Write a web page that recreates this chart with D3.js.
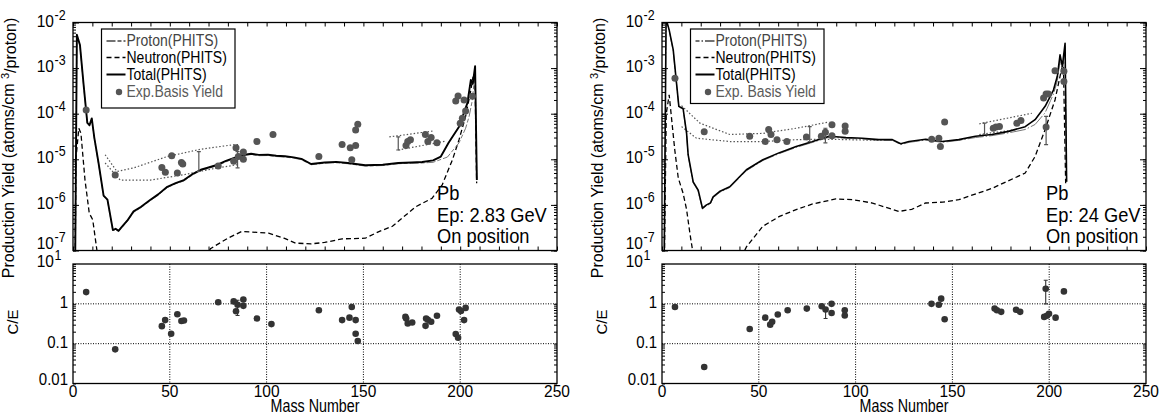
<!DOCTYPE html>
<html>
<head>
<meta charset="utf-8">
<script src="https://cdn.jsdelivr.net/npm/d3@7"></script>
<style>
  body { margin: 0; background: #fff; }
  svg { display: block; font-family: "Liberation Sans", Arial, Helvetica, sans-serif; }
  .frame { fill: none; stroke: #000; stroke-width: 1.3; }
  .axis path { display: none; }
  .axis line { stroke: #000; stroke-width: 1; }
  .grid { stroke: #000; stroke-width: 1; stroke-dasharray: 1, 1.5; }
</style>
</head>
<body>
<svg id="chart" width="1167" height="417"></svg>
<script>
// ---- data ----
var massTicks = [0, 50, 100, 150, 200, 250];
var yieldTicks = [1e-2, 1e-3, 1e-4, 1e-5, 1e-6, 1e-7];
var yieldTickSup = ["-2", "-3", "-4", "-5", "-6", "-7"];
var ratioTicks = [10, 1, 0.1, 0.01];
var ratioTickLabels = ["10", "1", "0.1", "0.01"];
var ratioTickSup = ["1", "", "", ""];
var legendLeft = ["Proton(PHITS)", "Neutron(PHITS)", "Total(PHITS)", "Exp.Basis Yield"];
var legendRight = ["Proton(PHITS)", "Neutron(PHITS)", "Total(PHITS)", "Exp. Basis Yield"];
var noteLeft = ["Pb", "Ep: 2.83 GeV", "On position"];
var noteRight = ["Pb", "Ep: 24 GeV", "On position"];

// Ep = 2.83 GeV
var totalLeft = [[1, 1e-8], [2, 5.4e-3], [3.6, 3.2e-3], [5.4, 4.7e-4], [7.4, 6.3e-5], [8.5, 5.6e-5],
  [9.7, 7.9e-5], [11, 3e-5], [13.2, 8.3e-6], [15.8, 1.6e-6], [17.8, 1.3e-6], [20.6, 2.8e-7],
  [22, 3e-7], [23.5, 2.7e-7], [25, 3.2e-7], [28, 4.5e-7], [31.3, 7.2e-7], [35, 9e-7], [40, 1.3e-6],
  [44, 1.7e-6], [48.7, 2.5e-6], [53, 3e-6], [57.3, 3.5e-6], [62, 4.8e-6], [66, 5.9e-6], [70, 6.6e-6],
  [74.7, 7.6e-6], [79, 9.2e-6], [83.3, 1.07e-5], [88, 1.25e-5], [92, 1.32e-5], [96, 1.25e-5],
  [100.7, 1.26e-5], [105, 1.2e-5], [109.5, 1.17e-5], [114, 1.1e-5], [118, 1.02e-5], [123, 7.9e-6],
  [130, 8.5e-6], [136, 8.8e-6], [142, 8.3e-6], [151, 7.4e-6], [160, 7.6e-6], [168, 8.3e-6],
  [175, 8.5e-6], [180.4, 8.7e-6], [186, 9.5e-6], [190, 1.15e-5], [194, 2.3e-5], [199.4, 5.2e-5],
  [203.7, 1.7e-4], [205.5, 5.5e-4], [206.5, 4.5e-4], [207.7, 1.1e-3], [208.6, 3.5e-6]];
var protonLeft = [[1, 1e-8], [2, 5.2e-3], [3.6, 3.1e-3], [5.4, 4.5e-4], [7.4, 6e-5], [8.5, 5.4e-5],
  [9.7, 7.6e-5], [11, 2.9e-5], [13.2, 8e-6], [15.8, 1.54e-6], [17.8, 1.25e-6], [20.6, 2.7e-7],
  [22, 2.9e-7], [23.5, 2.6e-7], [25, 3.1e-7], [28, 4.3e-7], [31.3, 6.9e-7], [35, 8.6e-7], [40, 1.25e-6],
  [44, 1.63e-6], [48.7, 2.4e-6], [53, 2.9e-6], [57.3, 3.35e-6], [62, 4.6e-6], [66, 5.7e-6], [70, 6.3e-6],
  [74.7, 7.3e-6], [79, 8.8e-6], [83.3, 1.03e-5], [88, 1.2e-5], [92, 1.27e-5], [96, 1.2e-5],
  [100.7, 1.21e-5], [105, 1.15e-5], [109.5, 1.12e-5], [114, 1.06e-5], [118, 9.8e-6], [123, 7.6e-6],
  [130, 8.2e-6], [136, 8.4e-6], [142, 8e-6], [151, 7.1e-6], [160, 7.3e-6], [168, 8e-6],
  [175, 8.2e-6], [180.4, 8.3e-6], [186, 8.6e-6], [193.4, 1.12e-5], [199.4, 2.3e-5], [202.8, 4.8e-5],
  [204.6, 8.7e-5], [206.3, 2e-4], [207.7, 9e-4], [208.6, 3.5e-6]];
var neutronLeft = [[1, 1e-8], [1.5, 1e-5], [3, 4.8e-5], [4.1, 3.7e-5], [6.2, 3.5e-6], [8.4, 6.6e-7],
  [10.2, 4.7e-7], [12.3, 1.05e-7], [13, 5e-8], [40, null], [69, 7e-8], [71, 1.1e-7], [80, 1.86e-7],
  [87, 2.6e-7], [95, 2.5e-7], [101, 2.4e-7], [109, 1.86e-7], [115, 1.45e-7], [123, 1.4e-7],
  [130, 1.5e-7], [139, 1.8e-7], [151, 1.86e-7], [158, 2.6e-7], [165, 3.4e-7], [177, 9.1e-7],
  [185.5, 1.4e-6], [190.7, 2.75e-6], [196, 9.8e-6], [199.4, 2.7e-5], [202.8, 8.7e-5],
  [205.5, 3.3e-4], [206.6, 6.3e-4], [207.6, 7e-4], [208.5, 3e-6]];
var expLeft = [[6.8, 1.2e-4], [21.8, 4.5e-6], [45.9, 6.6e-6], [47.7, 5.2e-6], [51, 1.2e-5], [53.9, 5e-6],
  [56, 8.5e-6], [56.7, 7.9e-6], [75, 7.1e-6], [83, 9.1e-6], [84.2, 1.8e-5], [85.4, 1.15e-5],
  [88, 1.45e-5], [88, 1e-5], [95, 2.45e-5], [103.3, 3.5e-5], [127, 1.15e-5], [139, 2.1e-5],
  [143.2, 1.8e-5], [144, 9.8e-6], [146, 2e-5], [146, 4.4e-5], [147.1, 5.9e-5], [172, 2e-5],
  [172.9, 2.45e-5], [174.3, 2.7e-5], [182, 3.5e-5], [183.3, 2.45e-5], [185, 3e-5], [188, 2.3e-5],
  [197.7, 1.9e-4], [198.9, 2.45e-4], [200, 6.2e-5], [201.1, 7.9e-5], [202, 2e-4], [202.8, 1.15e-4],
  [206.3, 2.4e-4]];
var bandsLeft = [
  [[16.6, 1.26e-5], [22.7, 5.4e-6], [31.4, 6.5e-6], [48.7, 1.15e-5], [66, 1.66e-5], [83.3, 2.1e-5], [86, 2.1e-5]],
  [[16.6, 8.3e-6], [24.4, 3.5e-6], [40, 3.5e-6], [57.3, 4.6e-6], [74.7, 6.5e-6], [85, 7.6e-6]],
  [[163.4, 3.1e-5], [186.4, 4.2e-5]],
  [[168, 1.6e-5], [192.5, 2.5e-5]]];
var errLeft = [[65, 5.4e-6, 1.48e-5], [85, 6.5e-6, 1.48e-5], [168, 1.6e-5, 3.1e-5]];
var ratioLeft = [[6.8, 1.97], [21.8, 0.072], [45.9, 0.275], [47.6, 0.39], [50.7, 0.178], [53.9, 0.55],
  [56, 0.37], [57.3, 0.38], [75, 1.1], [83, 1.15], [84.2, 0.65], [85, 0.95], [88, 1.29], [88, 0.89],
  [95, 0.43], [102.5, 0.31], [127, 0.69], [139, 0.39], [142.8, 0.45], [144, 0.83], [146, 0.39],
  [146, 0.178], [147.1, 0.117], [171.7, 0.47], [172.1, 0.43], [172.9, 0.32], [175.2, 0.34],
  [182.1, 0.28], [182.4, 0.43], [183.3, 0.4], [185, 0.355], [188, 0.5], [197.7, 0.174],
  [198.9, 0.141], [199.4, 0.72], [200.4, 0.66], [202, 0.39], [202.8, 0.79]];
var ratioErrLeft = [[85, 0.51, 1.23]];

// Ep = 24 GeV
var totalRight = [[1, 1e-8], [2.1, 1.2e-2], [3.7, 6.9e-3], [5.8, 2.5e-3], [7.5, 4.7e-4], [8.7, 1.45e-4],
  [10.9, 1.3e-4], [12.7, 3.7e-5], [13.5, 1.26e-5], [16.1, 3.2e-6], [18.7, 2.1e-6], [20.9, 8.5e-7],
  [23, 1e-6], [25, 1.1e-6], [26.4, 1.5e-6], [30, 2e-6], [35, 2.5e-6], [43.6, 5.9e-6], [52.1, 9.8e-6],
  [60.7, 1.4e-5], [69.3, 1.9e-5], [77.8, 2.45e-5], [86.4, 3.2e-5], [95, 3e-5], [103.5, 2.9e-5],
  [112, 2.7e-5], [119, 2.7e-5], [123.3, 2.2e-5], [127.6, 2.45e-5], [136.2, 2.75e-5], [144.7, 2.45e-5],
  [153.3, 2.7e-5], [161.9, 3.2e-5], [170.4, 3.5e-5], [179, 4.1e-5], [187.6, 5.2e-5], [192.7, 7.4e-5],
  [197.9, 1.45e-4], [202.2, 3.3e-4], [204.2, 6.6e-4], [205.6, 1.95e-3], [206.8, 1.1e-3],
  [208.2, 3.5e-3], [209, 3.2e-6]];
var protonRight = [[1, 1e-8], [2.1, 1.15e-2], [3.7, 6.6e-3], [5.8, 2.4e-3], [7.5, 4.5e-4], [8.7, 1.4e-4],
  [10.9, 1.25e-4], [12.7, 3.55e-5], [13.5, 1.2e-5], [16.1, 3.05e-6], [18.7, 2e-6], [20.9, 8.1e-7],
  [23, 9.6e-7], [25, 1.05e-6], [26.4, 1.44e-6], [30, 1.9e-6], [35, 2.4e-6], [43.6, 5.6e-6], [52.1, 9.4e-6],
  [60.7, 1.34e-5], [69.3, 1.82e-5], [77.8, 2.35e-5], [86.4, 3.05e-5], [95, 2.88e-5], [103.5, 2.78e-5],
  [112, 2.6e-5], [119, 2.6e-5], [123.3, 2.1e-5], [127.6, 2.35e-5], [136.2, 2.64e-5], [144.7, 2.35e-5],
  [153.3, 2.6e-5], [161.9, 3e-5], [170.4, 3.3e-5], [179, 3.8e-5], [187.6, 4.5e-5], [192.7, 5.8e-5],
  [197.9, 1.05e-4], [202.2, 2.7e-4], [204.2, 5.2e-4], [205.6, 1.5e-3], [206.8, 9e-4],
  [208.2, 3e-3], [209, 3.2e-6]];
var neutronRight = [[1, 1e-8], [2.2, 1e-4], [3.7, 2.6e-4], [6.6, 1.6e-5], [8.4, 3.9e-6], [10.9, 1.8e-6],
  [12.7, 7.9e-7], [14.4, 2.4e-7], [15.8, 1e-7], [16.5, 5e-8], [30, null], [41, 7e-8], [43.6, 1.2e-7],
  [52.1, 3.4e-7], [60.7, 5.6e-7], [69.3, 7.9e-7], [77.8, 1.05e-6], [89.8, 1.35e-6], [98.4, 1.3e-6],
  [108.7, 1.1e-6], [115, 9e-7], [122.4, 7.2e-7], [129, 8e-7], [136.2, 1.1e-6], [145, 1.15e-6],
  [153.3, 1.3e-6], [170.4, 2.3e-6], [187.6, 5e-6], [192.7, 1.15e-5], [197.9, 4.5e-5], [203, 2e-4],
  [205.6, 6.6e-4], [207.3, 1.45e-3], [208.5, 3e-6]];
var expRight = [[6.7, 6e-4], [21.8, 4e-5], [45.3, 3.2e-5], [53.3, 2.45e-5], [55.1, 4.5e-5], [56.3, 3.5e-5],
  [59.4, 2.7e-5], [64.5, 2.45e-5], [74.6, 3.1e-5], [82.3, 3.2e-5], [84.4, 3.9e-5], [87.8, 5.75e-5],
  [87.8, 3.3e-5], [94.6, 5.4e-5], [94.6, 4.1e-5], [139.3, 2.75e-5], [143, 2.9e-5], [143.8, 1.9e-5],
  [146, 6.6e-5], [171.1, 4.8e-5], [172.5, 5.1e-5], [174.3, 5.25e-5], [183.3, 6.2e-5], [185.4, 7.1e-5],
  [197.1, 2.2e-4], [198.4, 2.7e-4], [199.6, 2.7e-4], [203, 8.7e-4], [198.4, 5.1e-5], [207.6, 8.5e-4],
  [207.6, 5.1e-4]];
var bandsRight = [
  [[10.1, 1.5e-4], [19.6, 6.2e-5], [35, 3.5e-5], [52.1, 3.7e-5], [69.3, 4.8e-5], [86.4, 6.6e-5]],
  [[10.1, 5.2e-5], [17.8, 2.9e-5], [35, 2.45e-5], [52.1, 2.45e-5], [69.3, 2.7e-5], [86.4, 2.75e-5], [112, 2.6e-5]],
  [[163.9, 6e-5], [191, 1.02e-4]],
  [[163.9, 3.5e-5], [183.4, 4.5e-5]]];
var errRight = [[76.3, 2.45e-5, 5.2e-5], [84.4, 2.3e-5, 4.8e-5], [166.6, 3.5e-5, 6.2e-5], [198.4, 2.1e-5, 8.7e-5]];
var ratioRight = [[6.7, 0.83], [21.8, 0.026], [45.3, 0.234], [53.3, 0.45], [55.9, 0.3], [56.9, 0.355],
  [59.8, 0.54], [64.9, 0.69], [74.8, 0.76], [82.5, 0.87], [84.5, 0.72], [87.6, 1.0], [87.6, 0.59],
  [94.4, 0.69], [94.4, 0.51], [139.2, 1.0], [143, 0.95], [144.2, 1.35], [146, 0.41], [171.8, 0.76],
  [173, 0.69], [175.2, 0.63], [182.9, 0.71], [185, 0.63], [197.4, 0.47], [198.2, 2.4], [198.8, 0.5],
  [199.9, 0.56], [203.3, 0.45], [207.6, 2.05]];
var ratioErrRight = [[84.5, 0.43, 0.72], [198.2, 1.0, 3.9]];

var svg = d3.select("#chart");
var defs = svg.append("defs");

// text drawn slightly taller than wide, like the scanned figure
function label(g, x, y, size, sy, str, anchor) {
  return g.append("text").attr("transform", "translate(" + x + "," + y + ") scale(1," + sy + ")")
    .attr("text-anchor", anchor || "start").style("font-size", size + "px").text(str);
}

function powerLabel(g, x, y, base, sup) {
  label(g, x - 19, y, 15.5, 1.1, base, "end");
  if (sup) label(g, x - 18.5, y - 7, 12.5, 1.1, sup);
}

function drawPanel(p) {
  var g = svg.append("g");
  var x = d3.scaleLinear().domain([0, 250]).range([p.left, p.left + 484]);
  var yTop = d3.scaleLog().domain([1e-7, 1e-2]).range([250.5, 22.5]);
  var yBot = d3.scaleLog().domain([0.01, 10]).range([383.5, 264]);
  var x0 = x(0), x1 = x(250);

  defs.append("clipPath").attr("id", "clip" + p.id).append("rect")
    .attr("x", x0).attr("y", yTop(1e-2)).attr("width", x1 - x0).attr("height", yTop(1e-7) - yTop(1e-2));
  defs.append("clipPath").attr("id", "clipb" + p.id).append("rect")
    .attr("x", x0).attr("y", yBot(10)).attr("width", x1 - x0).attr("height", yBot(0.01) - yBot(10));

  // ---- ticks ----
  var massMinor = d3.range(0, 251, 10);
  g.append("g").attr("class", "axis").attr("transform", "translate(0," + yTop(1e-2) + ")")
    .call(d3.axisBottom(x).tickValues(massMinor).tickSize(4).tickFormat(""));
  g.append("g").attr("class", "axis").attr("transform", "translate(0," + yTop(1e-7) + ")")
    .call(d3.axisTop(x).tickValues(massMinor).tickSize(4).tickFormat(""));
  [[d3.axisRight, x0], [d3.axisLeft, x1]].forEach(function (s) {
    g.append("g").attr("class", "axis").attr("transform", "translate(" + s[1] + ",0)")
      .call(s[0](yTop).tickValues(yTop.ticks()).tickSize(3).tickFormat(""));
    g.append("g").attr("class", "axis").attr("transform", "translate(" + s[1] + ",0)")
      .call(s[0](yTop).tickValues(yieldTicks).tickSize(6).tickFormat(""));
    g.append("g").attr("class", "axis").attr("transform", "translate(" + s[1] + ",0)")
      .call(s[0](yBot).tickValues(yBot.ticks()).tickSize(3).tickFormat(""));
  });

  // ---- grid, lower panel ----
  g.selectAll(".gx").data(massTicks.slice(1, -1)).enter().append("line").attr("class", "grid")
    .attr("x1", function (d) { return x(d); }).attr("x2", function (d) { return x(d); })
    .attr("y1", yBot(10)).attr("y2", yBot(0.01));
  g.selectAll(".gy").data([1, 0.1]).enter().append("line").attr("class", "grid")
    .attr("x1", x0).attr("x2", x1)
    .attr("y1", function (d) { return yBot(d); }).attr("y2", function (d) { return yBot(d); });

  // ---- curves ----
  var line = d3.line().defined(function (d) { return d[1] != null; })
    .x(function (d) { return x(d[0]); }).y(function (d) { return yTop(d[1]); });
  var plot = g.append("g").attr("clip-path", "url(#clip" + p.id + ")");
  p.bands.forEach(function (b) {
    plot.append("path").datum(b).attr("d", line).attr("fill", "none")
      .attr("stroke", "#555").attr("stroke-width", 1.2).attr("stroke-dasharray", "1.5,2");
  });
  plot.append("path").datum(p.neutron).attr("d", line).attr("fill", "none")
    .attr("stroke", "#000").attr("stroke-width", 1.3).attr("stroke-dasharray", "5,3");
  plot.append("path").datum(p.proton).attr("d", line).attr("fill", "none")
    .attr("stroke", "#777").attr("stroke-width", 1).attr("stroke-dasharray", p.protonDash);
  plot.append("path").datum(p.total).attr("d", line).attr("fill", "none")
    .attr("stroke", "#000").attr("stroke-width", p.totalWidth).attr("stroke-linejoin", "round");

  p.err.forEach(function (e) {
    var eg = plot.append("g").attr("stroke", "#555").attr("stroke-width", 1.2);
    eg.append("line").attr("x1", x(e[0])).attr("x2", x(e[0])).attr("y1", yTop(e[1])).attr("y2", yTop(e[2]));
    eg.append("line").attr("x1", x(e[0]) - 2).attr("x2", x(e[0]) + 2).attr("y1", yTop(e[1])).attr("y2", yTop(e[1]));
    eg.append("line").attr("x1", x(e[0]) - 2).attr("x2", x(e[0]) + 2).attr("y1", yTop(e[2])).attr("y2", yTop(e[2]));
  });
  plot.selectAll(".exp").data(p.exp).enter().append("circle")
    .attr("cx", function (d) { return x(d[0]); }).attr("cy", function (d) { return yTop(d[1]); })
    .attr("r", 3.5).attr("fill", "#555");

  // ---- C/E ----
  var low = g.append("g").attr("clip-path", "url(#clipb" + p.id + ")");
  p.ratioErr.forEach(function (e) {
    var eg = low.append("g").attr("stroke", "#333").attr("stroke-width", 1.1);
    eg.append("line").attr("x1", x(e[0])).attr("x2", x(e[0])).attr("y1", yBot(e[1])).attr("y2", yBot(e[2]));
    eg.append("line").attr("x1", x(e[0]) - 2).attr("x2", x(e[0]) + 2).attr("y1", yBot(e[1])).attr("y2", yBot(e[1]));
    eg.append("line").attr("x1", x(e[0]) - 2).attr("x2", x(e[0]) + 2).attr("y1", yBot(e[2])).attr("y2", yBot(e[2]));
  });
  low.selectAll(".ce").data(p.ratio).enter().append("circle")
    .attr("cx", function (d) { return x(d[0]); }).attr("cy", function (d) { return yBot(d[1]); })
    .attr("r", 3.3).attr("fill", "#333");

  // ---- frames ----
  g.append("rect").attr("class", "frame").attr("x", x0).attr("y", yTop(1e-2))
    .attr("width", x1 - x0).attr("height", yTop(1e-7) - yTop(1e-2));
  g.append("rect").attr("class", "frame").attr("x", x0).attr("y", yBot(10))
    .attr("width", x1 - x0).attr("height", yBot(0.01) - yBot(10));

  // ---- tick labels ----
  yieldTicks.forEach(function (v, i) {
    var dy = (i === yieldTicks.length - 1) ? -1.5 : 4;
    powerLabel(g, x0, yTop(v) + dy, "10", yieldTickSup[i]);
  });
  ratioTicks.forEach(function (v, i) {
    if (ratioTickSup[i]) powerLabel(g, x0, yBot(v) + 3, ratioTickLabels[i], ratioTickSup[i]);
    else label(g, x0 - 5, yBot(v) + (i === ratioTicks.length - 1 ? 1.5 : 4.5), 15, 1.1, ratioTickLabels[i], "end");
  });
  massTicks.forEach(function (d) { label(g, x(d), 397, 15.5, 1.08, d, "middle"); });
  label(g, (x0 + x1) / 2, 412, 14.3, 1.22, "Mass Number", "middle");

  var yl = g.append("text").attr("transform", "translate(" + (x0 - 59) + ",148) rotate(-90)")
    .attr("text-anchor", "middle").style("font-size", "16px");
  yl.append("tspan").text("Production Yield (atoms/cm ");
  yl.append("tspan").attr("dy", "-0.45em").style("font-size", "11px").text("3");
  yl.append("tspan").attr("dy", "0.45em").text("/proton)");
  g.append("text").attr("transform", "translate(" + (x0 - 55) + ",322) rotate(-90)")
    .attr("text-anchor", "middle").style("font-size", "15px").text("C/E");

  // ---- legend ----
  var lg = g.append("g").attr("transform", "translate(" + (x0 + 28.5) + ",29)");
  lg.append("rect").attr("width", 133.5).attr("height", p.legendH)
    .attr("fill", "#fff").attr("stroke", "#000").attr("stroke-width", 1.2);
  var rows = [17, 33.5, 50.5, 68];
  var styles = [[p.protonDash, 1.3, "#444"], ["5,3", 1.3, "#000"], [null, 2, "#000"]];
  styles.forEach(function (s, i) {
    lg.append("line").attr("x1", 5).attr("x2", 24).attr("y1", rows[i] - 5).attr("y2", rows[i] - 5)
      .attr("stroke", s[2]).attr("stroke-width", s[1]).attr("stroke-dasharray", s[0]);
  });
  lg.append("circle").attr("cx", 17.5).attr("cy", rows[3] - 5).attr("r", 3.2).attr("fill", "#555");
  p.legend.forEach(function (t, i) {
    label(lg, 25, rows[i], 14, 1.12, t)
      .attr("fill", (i === 0) ? "#444" : (i === 3 ? "#5a5a5a" : "#000"));
  });

  // ---- annotation ----
  p.note.forEach(function (t, i) {
    label(g, x0 + p.noteX, 200 + i * 21.7, 18.3, 1.12, t);
  });
}

drawPanel({ id: "L", left: 73, total: totalLeft, proton: protonLeft, neutron: neutronLeft,
  exp: expLeft, bands: bandsLeft, err: errLeft, ratio: ratioLeft, ratioErr: ratioErrLeft,
  legend: legendLeft, note: noteLeft, noteX: 364, legendH: 79, totalWidth: 1.9, protonDash: "9,2,4,2" });
drawPanel({ id: "R", left: 662, total: totalRight, proton: protonRight, neutron: neutronRight,
  exp: expRight, bands: bandsRight, err: errRight, ratio: ratioRight, ratioErr: ratioErrRight,
  legend: legendRight, note: noteRight, noteX: 384, legendH: 74.5, totalWidth: 1.6, protonDash: "4,2,1.5,2,12,0" });
</script>
</body>
</html>
